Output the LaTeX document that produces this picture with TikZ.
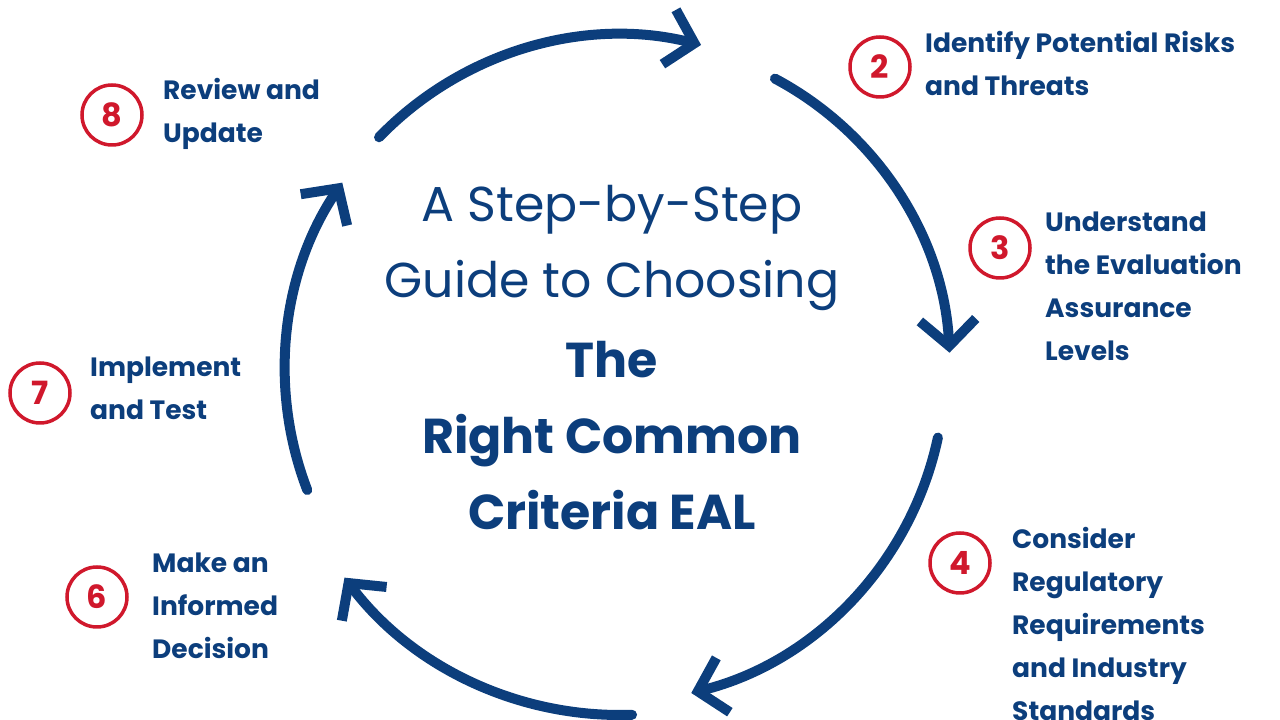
\documentclass[tikz,border=0pt]{standalone}
\usepackage{fontspec}
\setmainfont{Poppins}
\usetikzlibrary{arrows.meta}
\definecolor{navy}{RGB}{12,62,124}
\definecolor{stepred}{RGB}{208,24,44}
\begin{document}
\begin{tikzpicture}[x=1pt, y=1pt,
    loop/.style={draw=navy, line width=10pt, line cap=round, -{Straight Barb[length=26pt, width=56pt, line width=10pt]}},
    num/.style={circle, draw=stepred, line width=3.5pt, fill=white, minimum size=60pt, inner sep=0pt, text=stepred, font=\fontsize{32}{34}\selectfont\bfseries},
    stage/.style={anchor=north west, align=left, text=navy, inner sep=0pt, font=\fontsize{26.5}{43}\selectfont\bfseries},
    title/.style={align=center, text=navy, inner sep=0pt}
]
\useasboundingbox (0,0) rectangle (1280,720);
\coordinate (hub) at (620,350);

% cycle arrows
\draw[loop] ([shift={(136:335)}]hub) arc[start angle=136, end angle=76, radius=335];
\draw[loop] ([shift={(62:330)}]hub) arc[start angle=62, end angle=3, radius=330];
\draw[loop] ([shift={(-12:325)}]hub) arc[start angle=-12, end angle=-76, radius=335];
\draw[loop] ([shift={(-88:345)}]hub) arc[start angle=-88, end angle=-143, radius=345];
\draw[loop] ([shift={(201:335)}]hub) arc[start angle=201, end angle=146, radius=335];

% steps
\node[num] (n2) at (880,653) {2};
\node[stage] (s2) at (925,689) {Identify Potential Risks\\and Threats};
\node[num] (n3) at (1000,472) {3};
\node[stage] (s3) at (1045,508) {Understand\\the Evaluation\\Assurance\\Levels};
\node[num] (n4) at (960,157) {4};
\node[stage] (s4) at (1012,193) {Consider\\Regulatory\\Requirements\\and Industry\\Standards};
\node[num] (n6) at (97,123) {6};
\node[stage] (s6) at (152,167) {Make an\\Informed\\Decision};
\node[num] (n7) at (40,327) {7};
\node[stage] (s7) at (90,363) {Implement\\and Test};
\node[num] (n8) at (112,605) {8};
\node[stage] (s8) at (163,642) {Review and\\Update};

% title
\node[title, font=\fontsize{49}{76}\selectfont] (head) at (612,472) {A Step-by-Step\\Guide to Choosing};
\node[title, font=\fontsize{49}{76}\selectfont\bfseries] (name) at (612,284) {The\\Right Common\\Criteria EAL};
\end{tikzpicture}
\end{document}
